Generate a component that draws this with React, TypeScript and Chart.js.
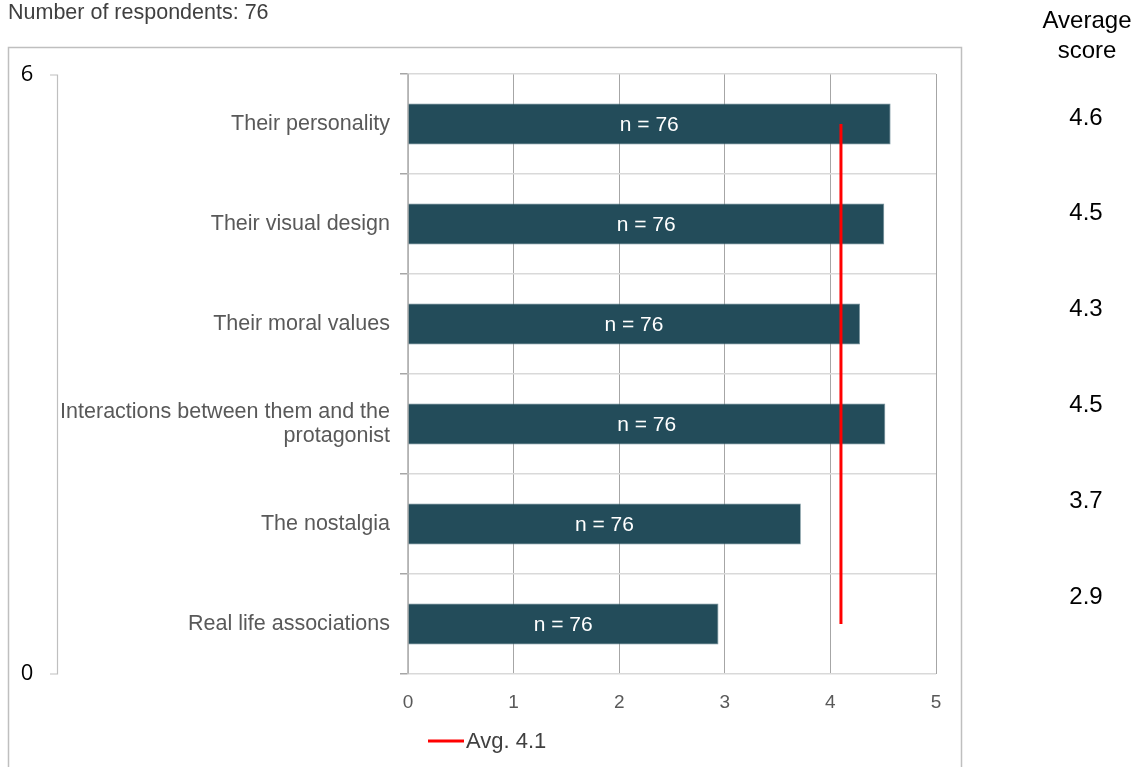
import React, { useEffect, useRef } from "react";
import { Chart, registerables } from "chart.js";

Chart.register(...registerables);

const categories: (string | string[])[] = [
  "Their personality",
  "Their visual design",
  "Their moral values",
  ["Interactions between them and the", "protagonist"],
  "The nostalgia",
  "Real life associations",
];
const scores = [4.57, 4.51, 4.28, 4.52, 3.72, 2.94];
const scoreLabels = ["4.6", "4.5", "4.3", "4.5", "3.7", "2.9"];
const nLabels = ["n = 76", "n = 76", "n = 76", "n = 76", "n = 76", "n = 76"];
const avgSeries = [4.1, 4.1, 4.1, 4.1, 4.1, 4.1];
const avgLabel = "Avg. 4.1";
const xTicks = [0, 1, 2, 3, 4, 5];
const leftAxisTicks = [0, 6];
const titleText = "Number of respondents: 76";
const rightHeader = ["Average", "score"];

const FONT = "'Liberation Sans', Arial, sans-serif";

const decorPlugin = {
  id: "decor",
  beforeDraw(chart: any) {
    const ctx = chart.ctx;
    ctx.save();
    ctx.fillStyle = "#ffffff";
    ctx.fillRect(0, 0, chart.width, chart.height);
    ctx.strokeStyle = "#bfbfbf";
    ctx.lineWidth = 1.5;
    ctx.strokeRect(8.5, 47.5, 953, 760);
    ctx.restore();
  },
  afterDatasetsDraw(chart: any) {
    const ctx = chart.ctx;
    const xScale = chart.scales.x;
    const meta = chart.getDatasetMeta(0);
    ctx.save();
    ctx.font = `21px ${FONT}`;
    ctx.fillStyle = "#ffffff";
    ctx.textAlign = "center";
    ctx.textBaseline = "middle";
    meta.data.forEach((bar: any, i: number) => {
      const left = xScale.getPixelForValue(0);
      ctx.fillText(nLabels[i], (left + bar.x) / 2, bar.y + 1);
    });
    ctx.restore();
  },
  afterDraw(chart: any) {
    const ctx = chart.ctx;
    const area = chart.chartArea;
    ctx.save();
    ctx.font = `21.5px ${FONT}`;
    ctx.fillStyle = "#404040";
    ctx.textAlign = "left";
    ctx.textBaseline = "middle";
    ctx.fillText(titleText, 8, 13);

    const ax = 57.5;
    const top = area.top + 1;
    const bottom = area.bottom;
    ctx.strokeStyle = "#bfbfbf";
    ctx.lineWidth = 1.2;
    ctx.beginPath();
    ctx.moveTo(50, top);
    ctx.lineTo(ax, top);
    ctx.lineTo(ax, bottom);
    ctx.lineTo(50, bottom);
    ctx.stroke();
    ctx.font = `22px 'Open Sans', ${FONT}`;
    ctx.fillStyle = "#000000";
    ctx.textAlign = "center";
    ctx.fillText(String(leftAxisTicks[1]), 27, top);
    ctx.fillText(String(leftAxisTicks[0]), 27, bottom);

    ctx.font = `24px ${FONT}`;
    ctx.fillStyle = "#000000";
    ctx.textAlign = "center";
    ctx.fillText(rightHeader[0], 1087, 21);
    ctx.fillText(rightHeader[1], 1087, 51);
    scoreLabels.forEach((s, i) => {
      ctx.fillText(s, 1086, 118 + i * 95.8);
    });

    ctx.strokeStyle = "#ff0000";
    ctx.lineWidth = 3;
    ctx.beginPath();
    ctx.moveTo(428, 741);
    ctx.lineTo(464, 741);
    ctx.stroke();
    ctx.font = `22px ${FONT}`;
    ctx.fillStyle = "#404040";
    ctx.textAlign = "left";
    ctx.fillText(avgLabel, 466, 742);
    ctx.restore();
  },
};

export default function App() {
  const ref = useRef<HTMLCanvasElement | null>(null);
  useEffect(() => {
    document.body.style.margin = "0";
    document.body.style.overflow = "hidden";
    const chart = new Chart(ref.current as HTMLCanvasElement, {
      type: "bar",
      data: {
        labels: categories as any,
        datasets: [
          {
            type: "bar",
            label: "Average score",
            data: scores,
            backgroundColor: "#234c5a",
            borderColor: "#6f8c96",
            borderWidth: 0.8,
            barPercentage: 0.41,
            categoryPercentage: 1,
            order: 2,
          } as any,
          {
            type: "line",
            label: avgLabel,
            data: avgSeries,
            indexAxis: "y",
            borderColor: "#ff0000",
            borderWidth: 3,
            pointRadius: 0,
            fill: false,
            order: 1,
          } as any,
        ],
      },
      options: {
        indexAxis: "y",
        responsive: false,
        animation: false,
        events: [],
        layout: { padding: { left: 0, top: 74, right: 211, bottom: 0 } },
        plugins: {
          legend: { display: false },
          tooltip: { enabled: false },
          title: { display: false },
        },
        scales: {
          x: {
            type: "linear",
            min: 0,
            max: 5,
            afterFit: (s: any) => {
              s.height = 93;
            },
            afterBuildTicks: (s: any) => {
              s.ticks = xTicks.map((v) => ({ value: v }));
            },
            grid: {
              color: "#a6a6a6",
              lineWidth: 1,
              drawTicks: false,
            },
            border: { display: false },
            ticks: {
              color: "#595959",
              font: { size: 19, family: FONT },
              padding: 17,
            },
          },
          y: {
            type: "category",
            afterFit: (s: any) => {
              s.width = 408;
            },
            grid: {
              color: "#d9d9d9",
              lineWidth: 1.5,
              offset: true,
              tickLength: 8,
              tickColor: "#a6a6a6",
            },
            border: { display: true, color: "#bfbfbf", width: 1.5 },
            ticks: {
              color: "#595959",
              font: { size: 21.5, family: FONT, lineHeight: 1.12 },
              padding: 10,
            },
          },
        },
      } as any,
      plugins: [decorPlugin],
    });
    return () => chart.destroy();
  }, []);
  return (
    <div style={{ position: "absolute", left: 0, top: 0, width: 1147, height: 767 }}>
      <canvas ref={ref} width={1147} height={767} style={{ width: 1147, height: 767 }} />
    </div>
  );
}
